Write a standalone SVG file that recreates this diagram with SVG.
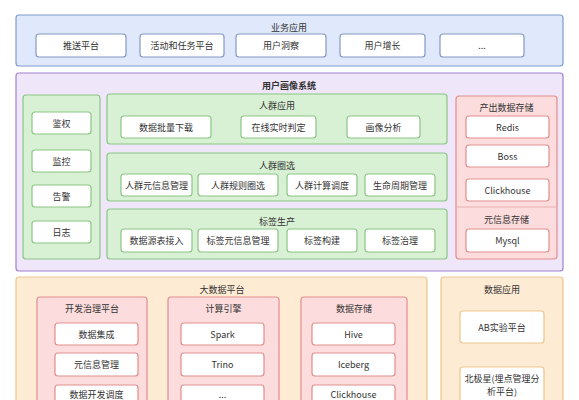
<svg xmlns="http://www.w3.org/2000/svg" width="579" height="400" viewBox="0 0 579 400">
<style>
text{font-family:"Noto Sans CJK SC","Liberation Sans",sans-serif;font-size:9px;fill:#333;text-anchor:middle;dominant-baseline:central}
.t{font-weight:bold}
.blue{fill:#dfe9fb;stroke:#7f9ccc;stroke-width:1.2}
.purple{fill:#efe6fa;stroke:#9d80d2;stroke-width:1.2}
.green{fill:#d8f0d3;stroke:#8bc686;stroke-width:1.2}
.pink{fill:#fcdcdc;stroke:#e38d8d;stroke-width:1.2}
.orange{fill:#fdebd4;stroke:#edc68e;stroke-width:1.2}
.wb{fill:#fff;stroke:#8598c2;stroke-width:1.2}
.wg{fill:#fff;stroke:#8bc686;stroke-width:1.2}
.wp{fill:#fff;stroke:#e38d8d;stroke-width:1.2}
.wo{fill:#fff;stroke:#edc68e;stroke-width:1.2}
</style>
<rect width="579" height="400" fill="#fff"/>
<g id="biz">
<rect class="blue" x="16" y="15" width="547" height="51" rx="3"/>
<text x="289" y="27">业务应用</text>
<g id="biz1"><rect class="wb" x="36" y="34" width="90" height="23" rx="3"/><text x="81" y="45.5">推送平台</text></g>
<g id="biz2"><rect class="wb" x="140" y="34" width="84" height="23" rx="3"/><text x="182" y="45.5">活动和任务平台</text></g>
<g id="biz3"><rect class="wb" x="236" y="34" width="90" height="23" rx="3"/><text x="281" y="45.5">用户洞察</text></g>
<g id="biz4"><rect class="wb" x="340" y="34" width="85" height="23" rx="3"/><text x="382.5" y="45.5">用户增长</text></g>
<g id="biz5"><rect class="wb" x="440" y="34" width="84" height="23" rx="3"/><text x="482" y="45.5">...</text></g>
</g>
<g id="profile">
<rect class="purple" x="16" y="73" width="547" height="198" rx="3"/>
<text class="t" x="289" y="85">用户画像系统</text>
<g id="ops">
<rect class="green" x="23" y="95" width="77" height="164" rx="3"/>
<g id="ops1"><rect class="wg" x="32" y="112" width="59" height="22" rx="3"/><text x="61.5" y="123">鉴权</text></g>
<g id="ops2"><rect class="wg" x="32" y="150" width="59" height="22" rx="3"/><text x="61.5" y="161">监控</text></g>
<g id="ops3"><rect class="wg" x="32" y="185" width="59" height="22" rx="3"/><text x="61.5" y="196">告警</text></g>
<g id="ops4"><rect class="wg" x="32" y="221" width="59" height="22" rx="3"/><text x="61.5" y="232">日志</text></g>
</g>
<g id="crowdapp">
<rect class="green" x="107" y="94" width="340" height="50" rx="3"/>
<text x="277" y="105">人群应用</text>
<g id="ca1"><rect class="wg" x="121" y="116" width="90" height="22" rx="3"/><text x="166" y="127">数据批量下载</text></g>
<g id="ca2"><rect class="wg" x="241" y="116" width="75" height="22" rx="3"/><text x="278.5" y="127">在线实时判定</text></g>
<g id="ca3"><rect class="wg" x="347" y="116" width="73" height="22" rx="3"/><text x="383.5" y="127">画像分析</text></g>
</g>
<g id="crowdsel">
<rect class="green" x="107" y="153" width="340" height="48" rx="3"/>
<text x="277" y="165">人群圈选</text>
<g id="cs1"><rect class="wg" x="121" y="174" width="71" height="22" rx="3"/><text x="156.5" y="185">人群元信息管理</text></g>
<g id="cs2"><rect class="wg" x="198" y="174" width="80" height="22" rx="3"/><text x="238" y="185">人群规则圈选</text></g>
<g id="cs3"><rect class="wg" x="287" y="174" width="70" height="22" rx="3"/><text x="322" y="185">人群计算调度</text></g>
<g id="cs4"><rect class="wg" x="365" y="174" width="70" height="22" rx="3"/><text x="400" y="185">生命周期管理</text></g>
</g>
<g id="tagprod">
<rect class="green" x="107" y="209" width="340" height="50" rx="3"/>
<text x="277" y="221">标签生产</text>
<g id="tp1"><rect class="wg" x="121" y="229" width="71" height="23" rx="3"/><text x="156.5" y="240.5">数据源表接入</text></g>
<g id="tp2"><rect class="wg" x="198" y="229" width="80" height="23" rx="3"/><text x="238" y="240.5">标签元信息管理</text></g>
<g id="tp3"><rect class="wg" x="287" y="229" width="70" height="23" rx="3"/><text x="322" y="240.5">标签构建</text></g>
<g id="tp4"><rect class="wg" x="365" y="229" width="70" height="23" rx="3"/><text x="400" y="240.5">标签治理</text></g>
</g>
<g id="store">
<rect class="pink" x="456" y="96" width="101" height="163" rx="3"/>
<text x="506.5" y="107">产出数据存储</text>
<g id="st1"><rect class="wp" x="466" y="116" width="83" height="22" rx="3"/><text x="507.5" y="127">Redis</text></g>
<g id="st2"><rect class="wp" x="466" y="145" width="83" height="22" rx="3"/><text x="507.5" y="156">Boss</text></g>
<g id="st3"><rect class="wp" x="466" y="179" width="83" height="22" rx="3"/><text x="507.5" y="190">Clickhouse</text></g>
<line x1="456" y1="207" x2="557" y2="207" stroke="#e8b0b0" stroke-width="1"/>
<text x="506.5" y="219">元信息存储</text>
<g id="st4"><rect class="wp" x="466" y="229" width="83" height="23" rx="3"/><text x="507.5" y="240.5">Mysql</text></g>
</g>
</g>
<g id="bigdata">
<rect class="orange" x="16" y="277" width="411" height="140" rx="3"/>
<text x="222" y="289">大数据平台</text>
<g id="devgov">
<rect class="pink" x="37" y="297" width="110" height="120" rx="3"/>
<text x="92" y="308">开发治理平台</text>
<g id="dg1"><rect class="wp" x="55" y="323" width="83" height="22" rx="3"/><text x="96.5" y="334">数据集成</text></g>
<g id="dg2"><rect class="wp" x="55" y="353" width="83" height="23" rx="3"/><text x="96.5" y="364.5">元信息管理</text></g>
<g id="dg3"><rect class="wp" x="55" y="385" width="83" height="23" rx="3"/><text x="96.5" y="394">数据开发调度</text></g>
</g>
<g id="compute">
<rect class="pink" x="168" y="297" width="111" height="120" rx="3"/>
<text x="223.5" y="308">计算引擎</text>
<g id="ce1"><rect class="wp" x="181" y="323" width="83" height="22" rx="3"/><text x="222.5" y="334">Spark</text></g>
<g id="ce2"><rect class="wp" x="181" y="353" width="83" height="23" rx="3"/><text x="222.5" y="364.5">Trino</text></g>
<g id="ce3"><rect class="wp" x="181" y="385" width="83" height="23" rx="3"/><text x="222.5" y="394">...</text></g>
</g>
<g id="datastore">
<rect class="pink" x="301" y="297" width="106" height="120" rx="3"/>
<text x="354" y="308">数据存储</text>
<g id="ds1"><rect class="wp" x="312" y="323" width="83" height="22" rx="3"/><text x="353.5" y="334">Hive</text></g>
<g id="ds2"><rect class="wp" x="312" y="353" width="83" height="23" rx="3"/><text x="353.5" y="364.5">Iceberg</text></g>
<g id="ds3"><rect class="wp" x="312" y="385" width="83" height="23" rx="3"/><text x="353.5" y="394">Clickhouse</text></g>
</g>
</g>
<g id="dataapp">
<rect class="orange" x="441" y="277" width="122" height="140" rx="3"/>
<text x="502" y="289">数据应用</text>
<g id="da1"><rect class="wo" x="460" y="311" width="84" height="32" rx="3"/><text x="502" y="327">AB实验平台</text></g>
<g id="da2"><rect class="wo" x="460" y="367" width="84" height="42" rx="3"/><text x="502" y="378">北极星(埋点管理分</text><text x="502" y="391">析平台)</text></g>
</g>
<g id="connectors"/>
</svg>
